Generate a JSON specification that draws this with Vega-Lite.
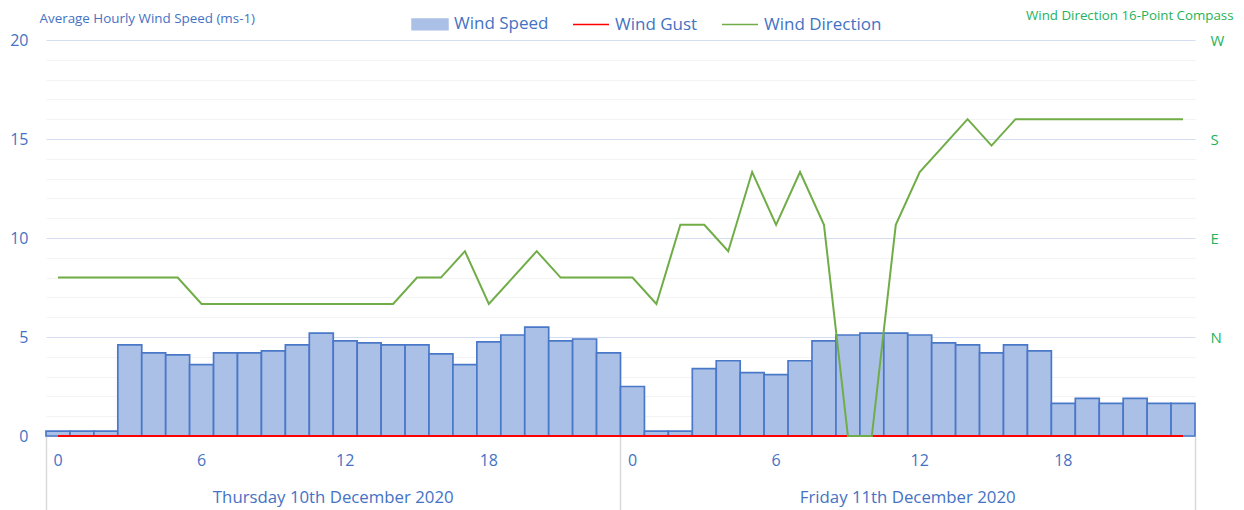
{
  "$schema": "https://vega.github.io/schema/vega-lite/v6.json",
  "width": 1149,
  "height": 396,
  "autosize": {"type": "none"},
  "padding": {"left": 46, "top": 40, "right": 49, "bottom": 74},
  "background": "white",
  "config": {
    "view": {"stroke": null},
    "font": "Open Sans",
    "axis": {"labelFont": "Open Sans", "titleFont": "Open Sans"},
    "legend": {
      "title": null,
      "orient": "none",
      "direction": "horizontal",
      "legendX": 365,
      "legendY": -35,
      "labelFont": "Open Sans",
      "labelFontSize": 17,
      "labelColor": "#4472C4",
      "labelOffset": 5,
      "columnPadding": 21,
      "symbolSize": 1296
    }
  },
  "data": {
    "values": [
      {"idx": 0, "speed": 0.25, "gust": 0, "dir": 6},
      {"idx": 1, "speed": 0.25, "gust": 0, "dir": 6},
      {"idx": 2, "speed": 0.25, "gust": 0, "dir": 6},
      {"idx": 3, "speed": 4.6, "gust": 0, "dir": 6},
      {"idx": 4, "speed": 4.2, "gust": 0, "dir": 6},
      {"idx": 5, "speed": 4.1, "gust": 0, "dir": 6},
      {"idx": 6, "speed": 3.6, "gust": 0, "dir": 5},
      {"idx": 7, "speed": 4.2, "gust": 0, "dir": 5},
      {"idx": 8, "speed": 4.2, "gust": 0, "dir": 5},
      {"idx": 9, "speed": 4.3, "gust": 0, "dir": 5},
      {"idx": 10, "speed": 4.6, "gust": 0, "dir": 5},
      {"idx": 11, "speed": 5.2, "gust": 0, "dir": 5},
      {"idx": 12, "speed": 4.8, "gust": 0, "dir": 5},
      {"idx": 13, "speed": 4.7, "gust": 0, "dir": 5},
      {"idx": 14, "speed": 4.6, "gust": 0, "dir": 5},
      {"idx": 15, "speed": 4.6, "gust": 0, "dir": 6},
      {"idx": 16, "speed": 4.15, "gust": 0, "dir": 6},
      {"idx": 17, "speed": 3.6, "gust": 0, "dir": 7},
      {"idx": 18, "speed": 4.75, "gust": 0, "dir": 5},
      {"idx": 19, "speed": 5.1, "gust": 0, "dir": 6},
      {"idx": 20, "speed": 5.5, "gust": 0, "dir": 7},
      {"idx": 21, "speed": 4.8, "gust": 0, "dir": 6},
      {"idx": 22, "speed": 4.9, "gust": 0, "dir": 6},
      {"idx": 23, "speed": 4.2, "gust": 0, "dir": 6},
      {"idx": 24, "speed": 2.5, "gust": 0, "dir": 6},
      {"idx": 25, "speed": 0.25, "gust": 0, "dir": 5},
      {"idx": 26, "speed": 0.25, "gust": 0, "dir": 8},
      {"idx": 27, "speed": 3.4, "gust": 0, "dir": 8},
      {"idx": 28, "speed": 3.8, "gust": 0, "dir": 7},
      {"idx": 29, "speed": 3.2, "gust": 0, "dir": 10},
      {"idx": 30, "speed": 3.1, "gust": 0, "dir": 8},
      {"idx": 31, "speed": 3.8, "gust": 0, "dir": 10},
      {"idx": 32, "speed": 4.8, "gust": 0, "dir": 8},
      {"idx": 33, "speed": 5.1, "gust": 0, "dir": 0},
      {"idx": 34, "speed": 5.2, "gust": 0, "dir": 0},
      {"idx": 35, "speed": 5.2, "gust": 0, "dir": 8},
      {"idx": 36, "speed": 5.1, "gust": 0, "dir": 10},
      {"idx": 37, "speed": 4.7, "gust": 0, "dir": 11},
      {"idx": 38, "speed": 4.6, "gust": 0, "dir": 12},
      {"idx": 39, "speed": 4.2, "gust": 0, "dir": 11},
      {"idx": 40, "speed": 4.6, "gust": 0, "dir": 12},
      {"idx": 41, "speed": 4.3, "gust": 0, "dir": 12},
      {"idx": 42, "speed": 1.65, "gust": 0, "dir": 12},
      {"idx": 43, "speed": 1.9, "gust": 0, "dir": 12},
      {"idx": 44, "speed": 1.65, "gust": 0, "dir": 12},
      {"idx": 45, "speed": 1.9, "gust": 0, "dir": 12},
      {"idx": 46, "speed": 1.65, "gust": 0, "dir": 12},
      {"idx": 47, "speed": 1.65, "gust": 0, "dir": 12}
    ]
  },
  "layer": [
    {
      "mark": {"type": "bar", "stroke": "#4A78C8", "strokeWidth": 1.7, "opacity": 1},
      "encoding": {
        "x": {
          "field": "idx", "type": "ordinal",
          "scale": {"paddingInner": 0, "paddingOuter": 0},
          "axis": {
            "orient": "bottom",
            "title": null,
            "values": [0, 6, 12, 18, 24, 30, 36, 42],
            "labelExpr": "datum.value % 24",
            "labelAngle": 0,
            "labelColor": "#4472C4",
            "labelFontSize": 16,
            "labelPadding": 16,
            "ticks": false,
            "domain": true,
            "domainColor": "#D9D9D9",
            "grid": false
          }
        },
        "y": {
          "field": "speed", "type": "quantitative",
          "scale": {"domain": [0, 20], "nice": false},
          "axis": {
            "values": [0,1,2,3,4,5,6,7,8,9,10,11,12,13,14,15,16,17,18,19,20],
            "labelExpr": "datum.value % 5 === 0 ? datum.label : ''",
            "labelColor": "#4472C4",
            "labelFontSize": 16,
            "labelPadding": 18,
            "ticks": false,
            "domain": false,
            "grid": true,
            "gridColor": {"condition": {"test": "datum.value % 5 === 0", "value": "#D5DDF0"}, "value": "#F3F3F3"},
            "gridWidth": 1.2,
            "title": "Average Hourly Wind Speed (ms-1)",
            "titleAngle": 0,
            "titleAlign": "left",
            "titleBaseline": "middle",
            "titleX": -7,
            "titleY": -22,
            "titleColor": "#4472C4",
            "titleFontSize": 13.4,
            "titleFontWeight": "normal"
          }
        },
        "color": {
          "datum": "Wind Speed",
          "scale": {"domain": ["Wind Speed", "Wind Gust", "Wind Direction"], "range": ["#ABC0E6", "#FF0000", "#70AD47"]},
          "legend": {
            "encode": {
              "symbols": {
                "update": {
                  "shape": {"signal": "datum.value === 'Wind Speed' ? 'M-1,-0.3H1V0.3H-1Z' : 'M-1,0H1'"},
                  "fill": {"signal": "datum.value === 'Wind Speed' ? '#ABC0E6' : 'transparent'"},
                  "stroke": {"signal": "datum.value === 'Wind Speed' ? '#4A78C8' : datum.value === 'Wind Gust' ? '#FF0000' : '#70AD47'"},
                  "strokeWidth": {"value": 1.5},
                  "opacity": {"value": 1}
                }
              }
            }
          }
        }
      }
    },
    {
      "mark": {"type": "line", "strokeWidth": 2},
      "encoding": {
        "x": {
          "field": "idx", "type": "ordinal",
          "axis": {
            "orient": "bottom",
            "title": null,
            "values": [12, 36],
            "bandPosition": 0,
            "labelExpr": "datum.value === 12 ? 'Thursday 10th December 2020' : 'Friday 11th December 2020'",
            "labelAngle": 0,
            "labelColor": "#4472C4",
            "labelFontSize": 16.8,
            "labelPadding": 53,
            "labelOffset": -12,
            "labelLimit": 0,
            "labelOverlap": false,
            "labelBound": false,
            "ticks": false,
            "domain": false,
            "grid": false
          }
        },
        "y": {"field": "gust", "type": "quantitative", "scale": {"domain": [0, 20], "nice": false}, "axis": null},
        "color": {
          "datum": "Wind Gust",
          "legend": {
            "encode": {
              "symbols": {
                "update": {
                  "shape": {"signal": "datum.value === 'Wind Speed' ? 'M-1,-0.3H1V0.3H-1Z' : 'M-1,0H1'"},
                  "fill": {"signal": "datum.value === 'Wind Speed' ? '#ABC0E6' : 'transparent'"},
                  "stroke": {"signal": "datum.value === 'Wind Speed' ? '#4A78C8' : datum.value === 'Wind Gust' ? '#FF0000' : '#70AD47'"},
                  "strokeWidth": {"value": 1.5},
                  "opacity": {"value": 1}
                }
              }
            }
          }
        }
      }
    },
    {
      "mark": {"type": "line", "strokeWidth": 2},
      "encoding": {
        "x": {
          "field": "idx", "type": "ordinal",
          "axis": {
            "orient": "bottom",
            "title": null,
            "values": [0, 24],
            "bandPosition": 0,
            "labels": false,
            "ticks": true,
            "tickSize": 74,
            "tickColor": "#D9D9D9",
            "tickWidth": 1.5,
            "domain": false,
            "grid": false
          }
        },
        "y": {
          "field": "dir", "type": "quantitative",
          "scale": {"domain": [0, 15], "nice": false},
          "axis": {
            "orient": "right",
            "values": [3.75, 7.5, 11.25, 15],
            "labelExpr": "datum.value < 5 ? 'N' : datum.value < 8 ? 'E' : datum.value < 12 ? 'S' : 'W'",
            "labelColor": "#24B35A",
            "labelFontSize": 15,
            "labelPadding": 15,
            "ticks": false,
            "domain": false,
            "grid": false,
            "title": "Wind Direction 16-Point Compass",
            "titleAngle": 0,
            "titleAlign": "right",
            "titleBaseline": "middle",
            "titleX": 38,
            "titleY": -25,
            "titleColor": "#24B35A",
            "titleFontSize": 13.3,
            "titleFontWeight": "normal"
          }
        },
        "color": {
          "datum": "Wind Direction",
          "legend": {
            "encode": {
              "symbols": {
                "update": {
                  "shape": {"signal": "datum.value === 'Wind Speed' ? 'M-1,-0.3H1V0.3H-1Z' : 'M-1,0H1'"},
                  "fill": {"signal": "datum.value === 'Wind Speed' ? '#ABC0E6' : 'transparent'"},
                  "stroke": {"signal": "datum.value === 'Wind Speed' ? '#4A78C8' : datum.value === 'Wind Gust' ? '#FF0000' : '#70AD47'"},
                  "strokeWidth": {"value": 1.5},
                  "opacity": {"value": 1}
                }
              }
            }
          }
        }
      }
    },
    {
      "mark": {"type": "line", "strokeWidth": 0, "opacity": 0},
      "encoding": {
        "x": {
          "field": "idx", "type": "ordinal",
          "axis": {
            "orient": "bottom",
            "title": null,
            "values": [47],
            "bandPosition": 1,
            "labels": false,
            "ticks": true,
            "tickSize": 74,
            "tickColor": "#D9D9D9",
            "tickWidth": 1.5,
            "domain": false,
            "grid": false
          }
        },
        "y": {"field": "gust", "type": "quantitative", "scale": {"domain": [0, 20], "nice": false}, "axis": null}
      }
    }
  ],
  "resolve": {"scale": {"y": "independent"}, "axis": {"x": "independent", "y": "independent"}}
}
